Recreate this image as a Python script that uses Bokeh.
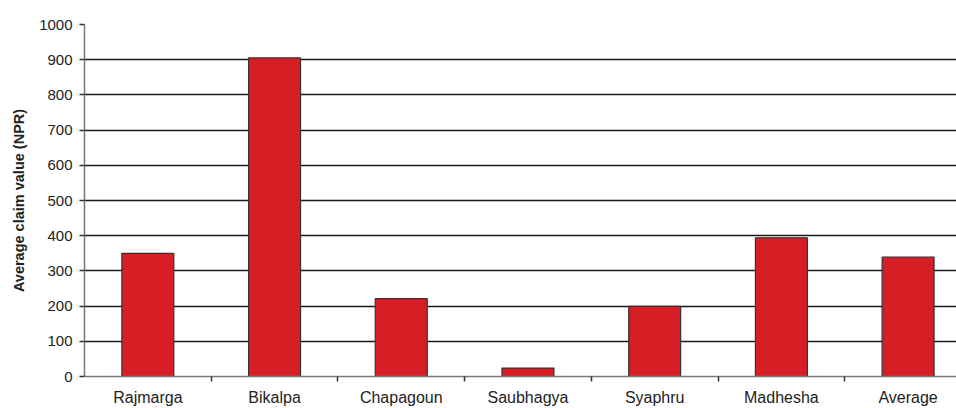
from bokeh.plotting import figure
from bokeh.models import Range1d, FixedTicker
from bokeh.embed import file_html
from bokeh.resources import INLINE

# Average claim value per scheme (NPR)
categories = ["Rajmarga", "Bikalpa", "Chapagoun", "Saubhagya", "Syaphru", "Madhesha", "Average"]
values = [350, 905, 221, 24, 199, 394, 339]
y_ticks = [0, 100, 200, 300, 400, 500, 600, 700, 800, 900, 1000]
grid_ticks = [100, 200, 300, 400, 500, 600, 700, 800, 900]

# category slots: centres carry the labels, boundaries carry the tick marks
centers = [i + 0.5 for i in range(len(categories))]
boundaries = [i + 1 for i in range(len(categories) - 1)]

FONT = "Liberation Sans"

p = figure(
    width=956, height=408,
    x_range=Range1d(0, 6.882), y_range=Range1d(0, 1000),
    output_backend="svg", toolbar_location=None,
    min_border_left=84, min_border_right=0,
    min_border_top=24, min_border_bottom=31,
)
p.outline_line_color = None
p.background_fill_color = "white"
p.border_fill_color = "white"

p.vbar(x=centers, top=values, width=0.41,
       fill_color="#D71E25", line_color="#333333", line_width=1.2)

# x axis
xa = p.xaxis[0]
xa.ticker = FixedTicker(ticks=centers, minor_ticks=boundaries)
xa.major_label_overrides = {c: name for c, name in zip(centers, categories)}
xa.major_tick_out = 0
xa.major_tick_in = 0
xa.minor_tick_out = 5
xa.minor_tick_in = 0
xa.minor_tick_line_color = "#333333"
xa.minor_tick_line_width = 1.5
xa.axis_line_color = "#777777"
xa.axis_line_width = 1.5
xa.major_label_standoff = 7
xa.major_label_text_font = FONT
xa.major_label_text_font_size = "16px"
xa.major_label_text_color = "#222222"

# y axis
ya = p.yaxis[0]
ya.ticker = FixedTicker(ticks=y_ticks)
ya.major_tick_out = 5
ya.major_tick_in = 0
ya.major_tick_line_color = "#333333"
ya.major_tick_line_width = 1.5
ya.axis_line_color = "#777777"
ya.axis_line_width = 1.5
ya.major_label_standoff = 7
ya.major_label_text_font = FONT
ya.major_label_text_font_size = "15px"
ya.major_label_text_color = "#222222"
ya.axis_label = "Average claim value (NPR)"
ya.axis_label_text_font = FONT
ya.axis_label_text_font_style = "bold"
ya.axis_label_text_font_size = "14.5px"
ya.axis_label_text_color = "#222222"
ya.axis_label_standoff = 9

# grid
p.xgrid.visible = False
p.ygrid.ticker = FixedTicker(ticks=grid_ticks)
p.ygrid.grid_line_color = "#1a1a1a"
p.ygrid.grid_line_width = 1.3

open("out.html", "w").write(file_html(p, INLINE))
